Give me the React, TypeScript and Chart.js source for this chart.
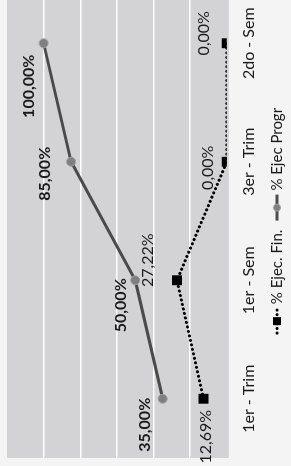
import React, { useEffect, useRef } from "react";
import { Chart, registerables } from "chart.js";

Chart.register(...registerables);

const categories = ["1er - Trim", "1er - Sem", "3er - Trim", "2do - Sem"];
const ejecFin = [12.69, 27.22, 0, 0];
const ejecProgr = [35, 50, 85, 100];
const seriesNames = ["% Ejec. Fin.", "% Ejec Progr"];
const yMin = 0;
const yMax = 120;
const yStep = 20;

const fmt = (v: number) => v.toFixed(2).replace(".", ",") + "%";

// label placement relative to each point (Excel-like manual placement)
const finLabelShift = [[-38, 2], [20, -29], [-6, -19], [10, -23]];
const progrLabelShift = [[-26, -18], [-25, -14], [-12, -26], [-43, -15]];

const FONT = "Lato, 'Open Sans', sans-serif";
const W = 490;
const H = 297;

const bgPlugin = {
  id: "bgPlugin",
  beforeDraw(chart: any) {
    const { ctx, chartArea } = chart;
    ctx.save();
    ctx.fillStyle = "#f4f4f4";
    ctx.fillRect(0, 0, chart.width, chart.height);
    ctx.fillStyle = "#d3d3d5";
    ctx.fillRect(chartArea.left, chartArea.top, chartArea.right - chartArea.left, chartArea.bottom - chartArea.top + 2);
    ctx.restore();
  },
};

const labelPlugin = {
  id: "labelPlugin",
  afterDatasetsDraw(chart: any) {
    const { ctx } = chart;
    const shifts = [finLabelShift, progrLabelShift];
    chart.data.datasets.forEach((ds: any, di: number) => {
      const meta = chart.getDatasetMeta(di);
      ctx.save();
      ctx.font = (di === 1 ? "bold " : "") + "16px " + FONT;
      ctx.fillStyle = "#1a1a1a";
      ctx.textAlign = "center";
      ctx.textBaseline = "middle";
      meta.data.forEach((pt: any, i: number) => {
        const s = shifts[di][i];
        ctx.fillText(fmt(ds.data[i]), pt.x + s[0], pt.y + s[1]);
      });
      ctx.restore();
    });
  },
};

const legendPlugin = {
  id: "legendPlugin",
  afterDraw(chart: any) {
    const { ctx } = chart;
    const y = 277;
    const markerW = 26;
    const gap = 4;
    const itemGap = 9;
    ctx.save();
    ctx.font = "15px " + FONT;
    const widths = seriesNames.map((n) => markerW + gap + ctx.measureText(n).width);
    const total = widths[0] + widths[1] + itemGap;
    let x = (chart.width - total) / 2;
    seriesNames.forEach((name, i) => {
      ctx.save();
      if (i === 0) {
        ctx.strokeStyle = "#000";
        ctx.lineWidth = 3;
        ctx.lineCap = "round";
        ctx.setLineDash([0.1, 4.5]);
        ctx.beginPath();
        ctx.moveTo(x + 1, y);
        ctx.lineTo(x + markerW, y);
        ctx.stroke();
        ctx.setLineDash([]);
        ctx.fillStyle = "#000";
        ctx.fillRect(x + markerW / 2 - 4, y - 4, 8, 8);
      } else {
        ctx.strokeStyle = "#4d4d4d";
        ctx.lineWidth = 3;
        ctx.beginPath();
        ctx.moveTo(x, y);
        ctx.lineTo(x + markerW, y);
        ctx.stroke();
        ctx.fillStyle = "#808080";
        ctx.strokeStyle = "#a0a0a0";
        ctx.lineWidth = 1;
        ctx.beginPath();
        ctx.arc(x + markerW / 2, y, 3.5, 0, Math.PI * 2);
        ctx.fill();
        ctx.stroke();
      }
      ctx.restore();
      ctx.fillStyle = "#1a1a1a";
      ctx.textAlign = "left";
      ctx.textBaseline = "middle";
      ctx.fillText(name, x + markerW + gap, y);
      x += widths[i] + itemGap;
    });
    ctx.restore();
  },
};

export default function App() {
  const ref = useRef<HTMLCanvasElement | null>(null);

  useEffect(() => {
    if (!ref.current) return;
    const chart = new Chart(ref.current, {
      type: "line",
      data: {
        labels: categories,
        datasets: [
          {
            label: seriesNames[0],
            data: ejecFin,
            borderColor: "#000",
            borderWidth: 3,
            borderCapStyle: "round",
            borderDash: [0.1, 4.5],
            pointStyle: "rect",
            pointRadius: 7,
            pointBackgroundColor: "#000",
            pointBorderColor: "#000",
            pointBorderWidth: 0,
            tension: 0,
          },
          {
            label: seriesNames[1],
            data: ejecProgr,
            borderColor: "#4a4a4a",
            borderWidth: 3,
            pointStyle: "circle",
            pointRadius: 4.5,
            pointBackgroundColor: "#7f7f7f",
            pointBorderColor: "#a0a0a0",
            pointBorderWidth: 1,
            tension: 0,
          },
        ],
      },
      options: {
        responsive: false,
        animation: false,
        devicePixelRatio: 1,
        layout: { padding: { left: 8, right: 8, top: 4, bottom: 27 } },
        plugins: {
          legend: { display: false },
          tooltip: { enabled: false },
        },
        scales: {
          x: {
            offset: true,
            grid: { display: false, drawTicks: false },
            border: { display: false },
            ticks: {
              padding: 12,
              maxRotation: 0,
              color: "#1a1a1a",
              font: { family: FONT, size: 16 },
            },
          },
          y: {
            min: yMin,
            max: yMax,
            grid: {
              drawTicks: false,
              lineWidth: 1.5,
              color: (c: any) =>
                c.tick && (c.tick.value === yMin || c.tick.value === yMax) ? "rgba(0,0,0,0)" : "#ffffff",
            },
            border: { display: false },
            ticks: { display: false, stepSize: yStep },
          },
        },
      },
      plugins: [bgPlugin, labelPlugin, legendPlugin],
    } as any);
    return () => chart.destroy();
  }, []);

  return (
    <div
      style={{
        position: "fixed",
        left: 0,
        top: 0,
        width: 291,
        height: 466,
        overflow: "hidden",
        background: "#f4f4f4",
      }}
    >
      <div
        style={{
          position: "absolute",
          left: 0,
          top: 466,
          width: W,
          height: H,
          transform: "rotate(-90deg)",
          transformOrigin: "0 0",
        }}
      >
        <canvas ref={ref} width={W} height={H} style={{ width: W, height: H, display: "block" }} />
      </div>
    </div>
  );
}
